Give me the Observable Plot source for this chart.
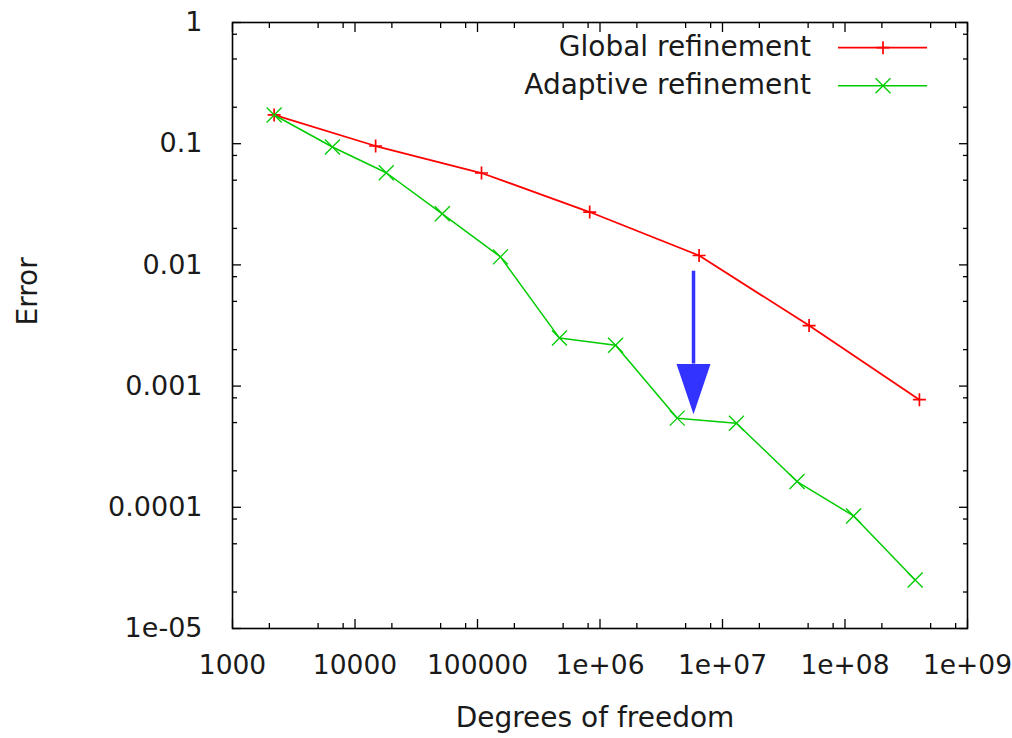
<!DOCTYPE html>
<html>
<head>
<meta charset="utf-8">
<script src="https://cdn.jsdelivr.net/npm/d3@7"></script>
<script src="https://cdn.jsdelivr.net/npm/@observablehq/plot@0.6"></script>
<style>
  body { margin: 0; background: #fff; }
  #wrap { position: relative; width: 1012px; height: 738px; }
  #wrap svg { overflow: visible; }
</style>
</head>
<body>
<div id="wrap"></div>
<script>
// ---- data ----
const globalDofs = [2187, 14739, 107811, 823875, 6440067, 50923779, 405017091];
const globalErr  = [0.1726, 0.0957, 0.0573, 0.0273, 0.01196, 0.00316, 0.000772];

const adaptiveDofs = [2187, 6540, 18000, 51600, 154000, 467000, 1340000, 4270000, 13000000, 40600000, 117500000, 374000000];
const adaptiveErr  = [0.1726, 0.0939, 0.0576, 0.0264, 0.01164, 0.00249, 0.00217, 0.000544, 0.000494, 0.000163, 0.0000849, 0.0000251];

const seriesNames = ["Global refinement", "Adaptive refinement"];
const seriesColors = ["#ff0000", "#00cc00"];

const xMajor = [1e3, 1e4, 1e5, 1e6, 1e7, 1e8, 1e9];
const xTickLabels = ["1000", "10000", "100000", "1e+06", "1e+07", "1e+08", "1e+09"];
const yMajor = [1e-5, 1e-4, 1e-3, 1e-2, 1e-1, 1];
const yTickLabels = ["1e-05", "0.0001", "0.001", "0.01", "0.1", "1"];
const minorMantissas = [2, 5, 8];

// annotation arrow (blue)
const arrowX = [5.8e6];
const arrowFrom = [0.00887];
const arrowHeadBase = [0.00152];
const arrowTip = [0.000587];
const arrowColor = "#3333ff";

const xLabel = "Degrees of freedom";
const yLabel = "Error";

// ---- derived tables ----
const globalData = globalDofs.map((x, i) => ({x, y: globalErr[i]}));
const adaptiveData = adaptiveDofs.map((x, i) => ({x, y: adaptiveErr[i]}));
const xMinor = xMajor.slice(0, -1).flatMap(d => minorMantissas.map(m => d * m));
const yMinor = yMajor.slice(0, -1).flatMap(d => minorMantissas.map(m => d * m));
const xFmt = new Map(xMajor.map((d, i) => [d, xTickLabels[i]]));
const yFmt = new Map(yMajor.map((d, i) => [d, yTickLabels[i]]));

// ---- symbols ----
const plusSymbol = {draw(ctx, size) { const r = Math.sqrt(size / Math.PI); ctx.moveTo(-r, 0); ctx.lineTo(r, 0); ctx.moveTo(0, -r); ctx.lineTo(0, r); }};
const timesSymbol = {draw(ctx, size) { const r = Math.sqrt(size / Math.PI); ctx.moveTo(-r, -r); ctx.lineTo(r, r); ctx.moveTo(-r, r); ctx.lineTo(r, -r); }};
const headSymbol = {draw(ctx, size) { const r = Math.sqrt(size / Math.PI); ctx.moveTo(0, 0); ctx.lineTo(-r, -2.95 * r); ctx.lineTo(r, -2.95 * r); ctx.closePath(); }};

const font = "DejaVu Sans";
const textColor = "#1a1a1a";
const blank = () => "";
const tickFont = 26.5;

const chart = Plot.plot({
  width: 1012,
  height: 738,
  marginLeft: 232,
  marginRight: 45,
  marginTop: 22,
  marginBottom: 110,
  x: {type: "log", domain: [1e3, 1e9], label: null},
  y: {type: "log", domain: [1e-5, 1], label: null},
  style: {fontFamily: font, fontSize: "28px", color: textColor, background: "white"},
  marks: [
    // minor ticks (inward, all four sides)
    Plot.axisX({anchor: "bottom", ticks: xMinor, tickSize: -5, tickFormat: blank, label: null, stroke: "black", strokeWidth: 1.3}),
    Plot.axisX({anchor: "top", ticks: xMinor, tickSize: -5, tickFormat: blank, label: null, stroke: "black", strokeWidth: 1.3}),
    Plot.axisY({anchor: "left", ticks: yMinor, tickSize: -5, tickFormat: blank, label: null, stroke: "black", strokeWidth: 1.3}),
    Plot.axisY({anchor: "right", ticks: yMinor, tickSize: -5, tickFormat: blank, label: null, stroke: "black", strokeWidth: 1.3}),
    // major ticks
    Plot.axisX({anchor: "bottom", ticks: xMajor, tickSize: -9, tickPadding: 36, tickFormat: d => xFmt.get(d), label: null, stroke: "black", strokeWidth: 1.3, fontSize: tickFont}),
    Plot.axisX({anchor: "top", ticks: xMajor, tickSize: -9, tickFormat: blank, label: null, stroke: "black", strokeWidth: 1.3}),
    Plot.axisY({anchor: "left", ticks: yMajor, tickSize: -9, tickPadding: 39, tickFormat: d => yFmt.get(d), label: null, stroke: "black", strokeWidth: 1.3, fontSize: 27}),
    Plot.axisY({anchor: "right", ticks: yMajor, tickSize: -9, tickFormat: blank, label: null, stroke: "black", strokeWidth: 1.3}),
    Plot.frame({stroke: "black", strokeWidth: 1.6}),
    // axis labels
    Plot.text([xLabel], {frameAnchor: "bottom", text: d => d, dy: 90, dx: -5, lineAnchor: "middle", fill: textColor}),
    Plot.text([yLabel], {frameAnchor: "left", text: d => d, dx: -204, rotate: -90, lineAnchor: "middle", fill: textColor}),
    // series
    Plot.line(globalData, {x: "x", y: "y", stroke: seriesColors[0], strokeWidth: 1.8}),
    Plot.dot(globalData, {x: "x", y: "y", symbol: plusSymbol, r: 6.5, stroke: seriesColors[0], fill: "none", strokeWidth: 1.7}),
    Plot.line(adaptiveData, {x: "x", y: "y", stroke: seriesColors[1], strokeWidth: 1.5}),
    Plot.dot(adaptiveData, {x: "x", y: "y", symbol: timesSymbol, r: 7.5, stroke: seriesColors[1], fill: "none", strokeWidth: 1.3}),
    // arrow
    Plot.ruleX(arrowX, {x: d => d, y1: arrowFrom, y2: arrowHeadBase, stroke: arrowColor, strokeWidth: 3.5}),
    Plot.dot(arrowX, {x: d => d, y: arrowTip, symbol: headSymbol, r: 17, fill: arrowColor, stroke: "none"})
  ]
});

const wrap = document.getElementById("wrap");
wrap.appendChild(chart);

// ---- legend (top-right, inside the frame) ----
const legend = d3.create("svg")
  .attr("width", 1012).attr("height", 738)
  .style("position", "absolute").style("left", "0px").style("top", "0px")
  .style("font-family", font).style("font-size", "28px");
const legendSymbols = [[plusSymbol, 6.5, 1.7, 1.8], [timesSymbol, 7.5, 1.3, 1.5]];
seriesNames.forEach((name, i) => {
  const cy = 46.5 + i * 38;
  legend.append("text").attr("x", 811).attr("y", cy).attr("dy", "0.35em")
    .attr("text-anchor", "end").attr("fill", textColor).text(name);
  legend.append("line").attr("x1", 838).attr("x2", 927).attr("y1", cy + 1.2).attr("y2", cy + 1.2)
    .attr("stroke", seriesColors[i]).attr("stroke-width", legendSymbols[i][3]);
  const [sym, r, sw] = legendSymbols[i];
  legend.append("path").attr("transform", `translate(883,${cy + 1.2})`)
    .attr("d", d3.symbol(sym, r * r * Math.PI)())
    .attr("fill", "none").attr("stroke", seriesColors[i]).attr("stroke-width", sw);
});
wrap.appendChild(legend.node());
</script>
</body>
</html>
